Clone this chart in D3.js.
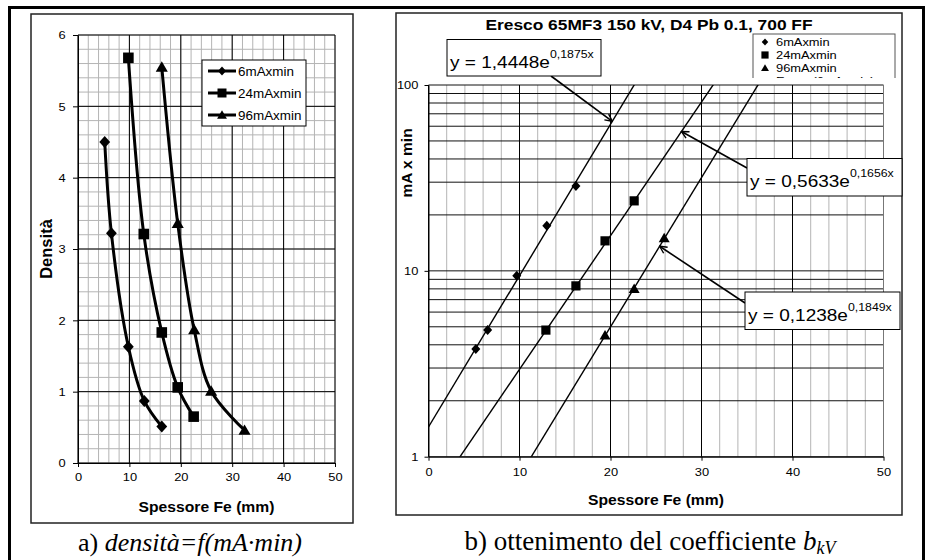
<!DOCTYPE html>
<html>
<head>
<meta charset="utf-8">
<script src="https://cdn.jsdelivr.net/npm/d3@7"></script>
<style>
  body { margin: 0; background: #fff; }
  svg { display: block; }
  text { font-family: "Liberation Sans", Arial, sans-serif; fill: #000; }
  .cap { font-family: "Liberation Serif", "Times New Roman", serif; }
</style>
</head>
<body>
<svg width="925" height="560"></svg>
<script>
// series
var seriesNames = ["6mAxmin", "24mAxmin", "96mAxmin"];
var markerTypes = ["diamond", "square", "triangle"];

// a) densita' in funzione dello spessore
var spessA6 = [5.2, 6.5, 9.8, 12.9, 16.3];
var densA6 = [4.50, 3.22, 1.63, 0.87, 0.51];
var spessA24 = [9.8, 12.8, 16.3, 19.4, 22.5];
var densA24 = [5.68, 3.21, 1.83, 1.06, 0.65];
var spessA96 = [16.3, 19.4, 22.6, 25.9, 32.4];
var densA96 = [5.55, 3.36, 1.87, 1.01, 0.46];

// b) mA x min in funzione dello spessore
var spessB6 = [5.2, 6.5, 9.7, 13.0, 16.2];
var mAminB6 = [3.8, 4.8, 9.4, 17.5, 28.6];
var spessB24 = [12.9, 16.2, 19.4, 22.6];
var mAminB24 = [4.8, 8.3, 14.5, 23.8];
var spessB96 = [19.4, 22.6, 25.9];
var mAminB96 = [4.5, 8.0, 15.0];

// trendlines y = a*e^(b*x)
var trendA = [1.4448, 0.5633, 0.1238];
var trendB = [0.1875, 0.1656, 0.1849];
var trendCoefText = ["1,4448", "0,5633", "0,1238"];
var trendExpText = ["0,1875x", "0,1656x", "0,1849x"];
var arrowTargetX = [20.2, 27.8, 25.4];

var xTicks = [0, 10, 20, 30, 40, 50];
var densTicks = [0, 1, 2, 3, 4, 5, 6];
var logTicks = [1, 10, 100];

var SX = 1.12; // the original text is a bit wide

var svg = d3.select("svg");

function txt(g, x, y, s, size, anchor, weight) {
  return g.append("text")
    .attr("transform", "translate(" + x + "," + y + ") scale(" + SX + ",1)")
    .attr("text-anchor", anchor || "start")
    .attr("font-size", size)
    .attr("font-weight", weight || "normal")
    .text(s);
}

function shape(type, r) {
  if (type === "diamond")
    return "M0," + (-r) + "L" + (r * 0.9) + ",0L0," + r + "L" + (-r * 0.9) + ",0Z";
  if (type === "square")
    return "M" + (-r) + "," + (-r) + "H" + r + "V" + r + "H" + (-r) + "Z";
  return "M0," + (-r * 1.05) + "L" + (r * 1.1) + "," + (r * 0.85) + "L" + (-r * 1.1) + "," + (r * 0.85) + "Z";
}

// outer frame
svg.append("line").attr("x1", 8).attr("x2", 925).attr("y1", 7.5).attr("y2", 7.5)
  .attr("stroke", "#000").attr("stroke-width", 3);
svg.append("line").attr("x1", 9.5).attr("x2", 9.5).attr("y1", 6).attr("y2", 560)
  .attr("stroke", "#000").attr("stroke-width", 3);
svg.append("line").attr("x1", 923.5).attr("x2", 923.5).attr("y1", 6).attr("y2", 560)
  .attr("stroke", "#000").attr("stroke-width", 3);

// ---------------- chart a ----------------
var gA = svg.append("g");
gA.append("rect").attr("x", 31).attr("y", 14).attr("width", 322).attr("height", 509)
  .attr("fill", "#fff").attr("stroke", "#222").attr("stroke-width", 1.5);

var xA = d3.scaleLinear().domain([0, 50]).range([78, 335]);
var yA = d3.scaleLinear().domain([0, 6]).range([463, 35]);

gA.selectAll(".vmin").data(xA.ticks(25)).enter().append("line")
  .attr("x1", function(d) { return xA(d); }).attr("x2", function(d) { return xA(d); })
  .attr("y1", yA(0)).attr("y2", yA(6))
  .attr("stroke", "#b4b4b4").attr("stroke-width", 1);
gA.selectAll(".hmin").data(yA.ticks(30)).enter().append("line")
  .attr("x1", xA(0)).attr("x2", xA(50))
  .attr("y1", function(d) { return yA(d); }).attr("y2", function(d) { return yA(d); })
  .attr("stroke", "#b4b4b4").attr("stroke-width", 1);
gA.selectAll(".vmaj").data(xTicks).enter().append("line")
  .attr("x1", function(d) { return xA(d); }).attr("x2", function(d) { return xA(d); })
  .attr("y1", yA(0)).attr("y2", yA(6))
  .attr("stroke", "#000").attr("stroke-width", 1);
gA.selectAll(".hmaj").data(densTicks).enter().append("line")
  .attr("x1", xA(0)).attr("x2", xA(50))
  .attr("y1", function(d) { return yA(d); }).attr("y2", function(d) { return yA(d); })
  .attr("stroke", "#000").attr("stroke-width", 1);

var axA = gA.append("g").attr("transform", "translate(0," + yA(0) + ")")
  .call(d3.axisBottom(xA).tickValues(xTicks).tickSizeInner(4).tickSizeOuter(0).tickPadding(6));
var ayA = gA.append("g").attr("transform", "translate(" + xA(0) + ",0)")
  .call(d3.axisLeft(yA).tickValues(densTicks).tickFormat(d3.format("d"))
    .tickSizeInner(5).tickSizeOuter(0).tickPadding(6));
[axA, ayA].forEach(function(a) {
  a.selectAll("path, line").attr("stroke", "#000");
  a.selectAll("text").attr("font-size", 11.5).attr("font-family", "Liberation Sans, Arial, sans-serif")
    .attr("transform", "scale(" + SX + ",1)");
});

txt(gA, 206.5, 512, "Spessore Fe (mm)", 14, "middle", "bold");
gA.append("text").attr("transform", "translate(52,249) rotate(-90)")
  .attr("text-anchor", "middle").attr("font-size", 16.5).attr("font-weight", "bold").text("Densità");

var seriesA = [
  { x: spessA6, y: densA6 },
  { x: spessA24, y: densA24 },
  { x: spessA96, y: densA96 }
];
var lineA = d3.line().curve(d3.curveCatmullRom.alpha(0.5))
  .x(function(d) { return xA(d[0]); }).y(function(d) { return yA(d[1]); });
seriesA.forEach(function(s, i) {
  var pts = d3.zip(s.x, s.y);
  gA.append("path").datum(pts).attr("d", lineA)
    .attr("fill", "none").attr("stroke", "#000").attr("stroke-width", 3);
  gA.selectAll(".mk" + i).data(pts).enter().append("path")
    .attr("transform", function(d) { return "translate(" + xA(d[0]) + "," + yA(d[1]) + ")"; })
    .attr("d", shape(markerTypes[i], i === 2 ? 5.5 : (i === 0 ? 6 : 5.3)))
    .attr("fill", "#000");
});

// legend a
var legA = gA.append("g");
legA.append("rect").attr("x", 202).attr("y", 60).attr("width", 104).attr("height", 66)
  .attr("fill", "#fff").attr("stroke", "#000").attr("stroke-width", 1);
seriesNames.forEach(function(n, i) {
  var ly = 71 + i * 22;
  legA.append("line").attr("x1", 208).attr("x2", 236).attr("y1", ly).attr("y2", ly)
    .attr("stroke", "#000").attr("stroke-width", 3);
  legA.append("path").attr("transform", "translate(222," + ly + ")")
    .attr("d", shape(markerTypes[i], 4.5)).attr("fill", "#000");
  txt(legA, 238, ly + 4.5, n, 12);
});

// caption a
var capA = svg.append("text").attr("class", "cap").attr("x", 190).attr("y", 551)
  .attr("text-anchor", "middle").attr("font-size", 26);
capA.append("tspan").text("a) ");
capA.append("tspan").attr("font-style", "italic").text("densità=f(mA·min)");

// ---------------- chart b ----------------
var gB = svg.append("g");
gB.append("rect").attr("x", 396).attr("y", 13).attr("width", 506).attr("height", 502)
  .attr("fill", "#fff").attr("stroke", "#222").attr("stroke-width", 1.5);

var xB = d3.scaleLinear().domain([0, 50]).range([428.5, 883.5]);
var yB = d3.scaleLog().domain([1, 100]).range([456.7, 85]);

gB.selectAll(".vmin").data(xB.ticks(25)).enter().append("line")
  .attr("x1", function(d) { return xB(d); }).attr("x2", function(d) { return xB(d); })
  .attr("y1", yB(1)).attr("y2", yB(100))
  .attr("stroke", "#b4b4b4").attr("stroke-width", 1);
gB.selectAll(".hlog").data(yB.ticks()).enter().append("line")
  .attr("x1", xB(0)).attr("x2", xB(50))
  .attr("y1", function(d) { return yB(d); }).attr("y2", function(d) { return yB(d); })
  .attr("stroke", "#111").attr("stroke-width", 1);
gB.selectAll(".vmaj").data(xTicks).enter().append("line")
  .attr("x1", function(d) { return xB(d); }).attr("x2", function(d) { return xB(d); })
  .attr("y1", yB(1)).attr("y2", yB(100))
  .attr("stroke", function(d) { return d === 50 ? "#777" : "#000"; }).attr("stroke-width", 1);

var axB = gB.append("g").attr("transform", "translate(0," + yB(1) + ")")
  .call(d3.axisBottom(xB).tickValues(xTicks).tickSizeInner(4).tickSizeOuter(0).tickPadding(7));
var ayB = gB.append("g").attr("transform", "translate(" + xB(0) + ",0)")
  .call(d3.axisLeft(yB).tickValues(logTicks).tickFormat(d3.format("d")).tickSizeInner(4).tickSizeOuter(0).tickPadding(5));
[axB, ayB].forEach(function(a) {
  a.selectAll("path, line").attr("stroke", "#000");
  a.selectAll("text").attr("font-size", 11.5).attr("font-family", "Liberation Sans, Arial, sans-serif")
    .attr("transform", "scale(" + SX + ",1)");
});

txt(gB, 656, 505, "Spessore Fe (mm)", 14, "middle", "bold");
gB.append("text").attr("transform", "translate(412,163) rotate(-90)")
  .attr("text-anchor", "middle").attr("font-size", 15.5).attr("font-weight", "bold").text("mA x min");
txt(gB, 649, 30, "Eresco 65MF3 150 kV, D4 Pb 0.1, 700 FF", 15.5, "middle", "bold");

// trendlines
svg.append("defs").append("clipPath").attr("id", "clipB").append("rect")
  .attr("x", xB(0)).attr("y", yB(100)).attr("width", xB(50) - xB(0)).attr("height", yB(1) - yB(100));
var lineB = d3.line().x(function(d) { return xB(d[0]); }).y(function(d) { return yB(d[1]); });
var trendG = gB.append("g").attr("clip-path", "url(#clipB)");
trendA.forEach(function(a, i) {
  var pts = xB.domain().map(function(x) { return [x, a * Math.exp(trendB[i] * x)]; });
  trendG.append("path").datum(pts).attr("d", lineB)
    .attr("fill", "none").attr("stroke", "#000").attr("stroke-width", 1.4);
});

var seriesB = [
  { x: spessB6, y: mAminB6 },
  { x: spessB24, y: mAminB24 },
  { x: spessB96, y: mAminB96 }
];
seriesB.forEach(function(s, i) {
  gB.selectAll(".mk" + i).data(d3.zip(s.x, s.y)).enter().append("path")
    .attr("transform", function(d) { return "translate(" + xB(d[0]) + "," + yB(d[1]) + ")"; })
    .attr("d", shape(markerTypes[i], i === 1 ? 4.6 : 5))
    .attr("fill", "#000");
});

// equation labels with arrows
svg.select("defs").append("marker").attr("id", "arr")
  .attr("viewBox", "0 0 10 10").attr("refX", 9).attr("refY", 5)
  .attr("markerWidth", 9).attr("markerHeight", 9).attr("orient", "auto")
  .attr("markerUnits", "userSpaceOnUse")
  .append("path").attr("d", "M1,1L9,5L1,9").attr("fill", "none").attr("stroke", "#000").attr("stroke-width", 1.6);

var eqBoxes = [
  { x: 447, y: 39.5, w: 154, h: 36.5, sx: 551, sy: 76 },
  { x: 747, y: 158.5, w: 155, h: 37.5, sx: 747, sy: 168 },
  { x: 745, y: 292, w: 155, h: 37.5, sx: 745, sy: 303 }
];
eqBoxes.forEach(function(b, i) {
  var tx = arrowTargetX[i];
  var ty = trendA[i] * Math.exp(trendB[i] * tx);
  gB.append("line").attr("x1", b.sx).attr("y1", b.sy).attr("x2", xB(tx)).attr("y2", yB(ty))
    .attr("stroke", "#000").attr("stroke-width", 1.6).attr("marker-end", "url(#arr)");
  gB.append("rect").attr("x", b.x).attr("y", b.y).attr("width", b.w).attr("height", b.h)
    .attr("fill", "#fff").attr("stroke", "#000").attr("stroke-width", 1);
  var t = txt(gB, b.x + 3, b.y + 28.5, "y = " + trendCoefText[i] + "e", 17);
  t.append("tspan").attr("font-size", 11).attr("dy", -10).text(trendExpText[i]);
});

// legend b (the trendline entry is cut by the plot area)
svg.select("defs").append("clipPath").attr("id", "clipLeg").append("rect")
  .attr("x", 752).attr("y", 33).attr("width", 144).attr("height", 45);
var legB = gB.append("g").attr("clip-path", "url(#clipLeg)");
legB.append("rect").attr("x", 753).attr("y", 34).attr("width", 142).attr("height", 50)
  .attr("fill", "#fff").attr("stroke", "#555").attr("stroke-width", 1);
seriesNames.concat(["Espo. (6mAxmin)"]).forEach(function(n, i) {
  var ly = 42 + i * 13;
  if (i < 3) {
    legB.append("path").attr("transform", "translate(765," + ly + ")")
      .attr("d", shape(markerTypes[i], 3.6)).attr("fill", "#000");
  } else {
    legB.append("line").attr("x1", 758).attr("x2", 772).attr("y1", ly).attr("y2", ly)
      .attr("stroke", "#000").attr("stroke-width", 1.4);
  }
  txt(legB, 776, ly + 4.3, n, 11.5);
});

// caption b
var capB = svg.append("text").attr("class", "cap").attr("x", 650).attr("y", 550)
  .attr("text-anchor", "middle").attr("font-size", 27);
capB.append("tspan").text("b) ottenimento del coefficiente ");
capB.append("tspan").attr("font-style", "italic").text("b");
capB.append("tspan").attr("font-style", "italic").attr("font-size", 18).attr("dy", 4).text("kV");
</script>
</body>
</html>
